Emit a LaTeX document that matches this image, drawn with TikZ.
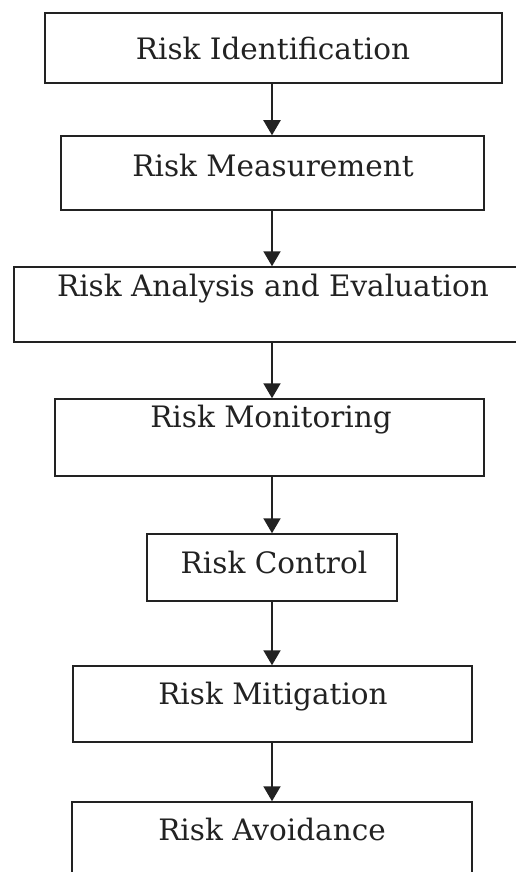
\documentclass[tikz,border=0pt]{standalone}
\usepackage{fontspec}
\setmainfont{DejaVu Serif}
\usetikzlibrary{arrows.meta}
\definecolor{ink}{HTML}{222222}
\begin{document}
\begin{tikzpicture}[x=1pt,y=-1pt,
  stagebox/.style={draw=ink, line width=1.5pt, rectangle, inner sep=0pt},
  lbl/.style={anchor=base, inner sep=0pt, text=ink, font=\fontsize{29.5}{32}\selectfont},
  arr/.style={draw=ink, line width=2pt, -{Triangle[length=15pt,width=17pt]}}]
\clip (0,0) rectangle (516,872);
\useasboundingbox (0,0) rectangle (516,872);
\coordinate (ax) at (272,0);
\node[stagebox, minimum width=457pt, minimum height=70pt] (b1) at (273.5,48) {};
\node[stagebox, minimum width=423pt, minimum height=74pt] (b2) at (272.5,173) {};
\node[stagebox, minimum width=516pt, minimum height=75pt] (b3) at (272,304.5) {};
\node[stagebox, minimum width=429pt, minimum height=77pt] (b4) at (269.5,437.5) {};
\node[stagebox, minimum width=250pt, minimum height=67pt] (b5) at (272,567.5) {};
\node[stagebox, minimum width=399pt, minimum height=76pt] (b6) at (272.5,704) {};
\node[stagebox, minimum width=400pt, minimum height=98pt] (b7) at (272,851) {};
\node[lbl] (t1) at ([yshift=-47pt]b1.north -| 273,0) {Risk Identification};
\node[lbl] (t2) at ([yshift=-41pt]b2.north -| 273,0) {Risk Measurement};
\node[lbl] (t3) at ([yshift=-30pt]b3.north -| 273,0) {Risk Analysis and Evaluation};
\node[lbl] (t4) at ([yshift=-29pt]b4.north -| 271,0) {Risk Monitoring};
\node[lbl] (t5) at ([yshift=-40pt]b5.north -| 274,0) {Risk Control};
\node[lbl] (t6) at ([yshift=-39pt]b6.north -| 273,0) {Risk Mitigation};
\node[lbl] (t7) at ([yshift=-39pt]b7.north -| 272,0) {Risk Avoidance};
\draw[arr] (ax |- b1.south) -- (ax |- b2.north);
\draw[arr] (ax |- b2.south) -- (ax |- b3.north);
\draw[arr] (ax |- b3.south) -- (ax |- b4.north);
\draw[arr] (ax |- b4.south) -- (ax |- b5.north);
\draw[arr] (ax |- b5.south) -- (ax |- b6.north);
\draw[arr] (ax |- b6.south) -- (ax |- b7.north);
\end{tikzpicture}
\end{document}
